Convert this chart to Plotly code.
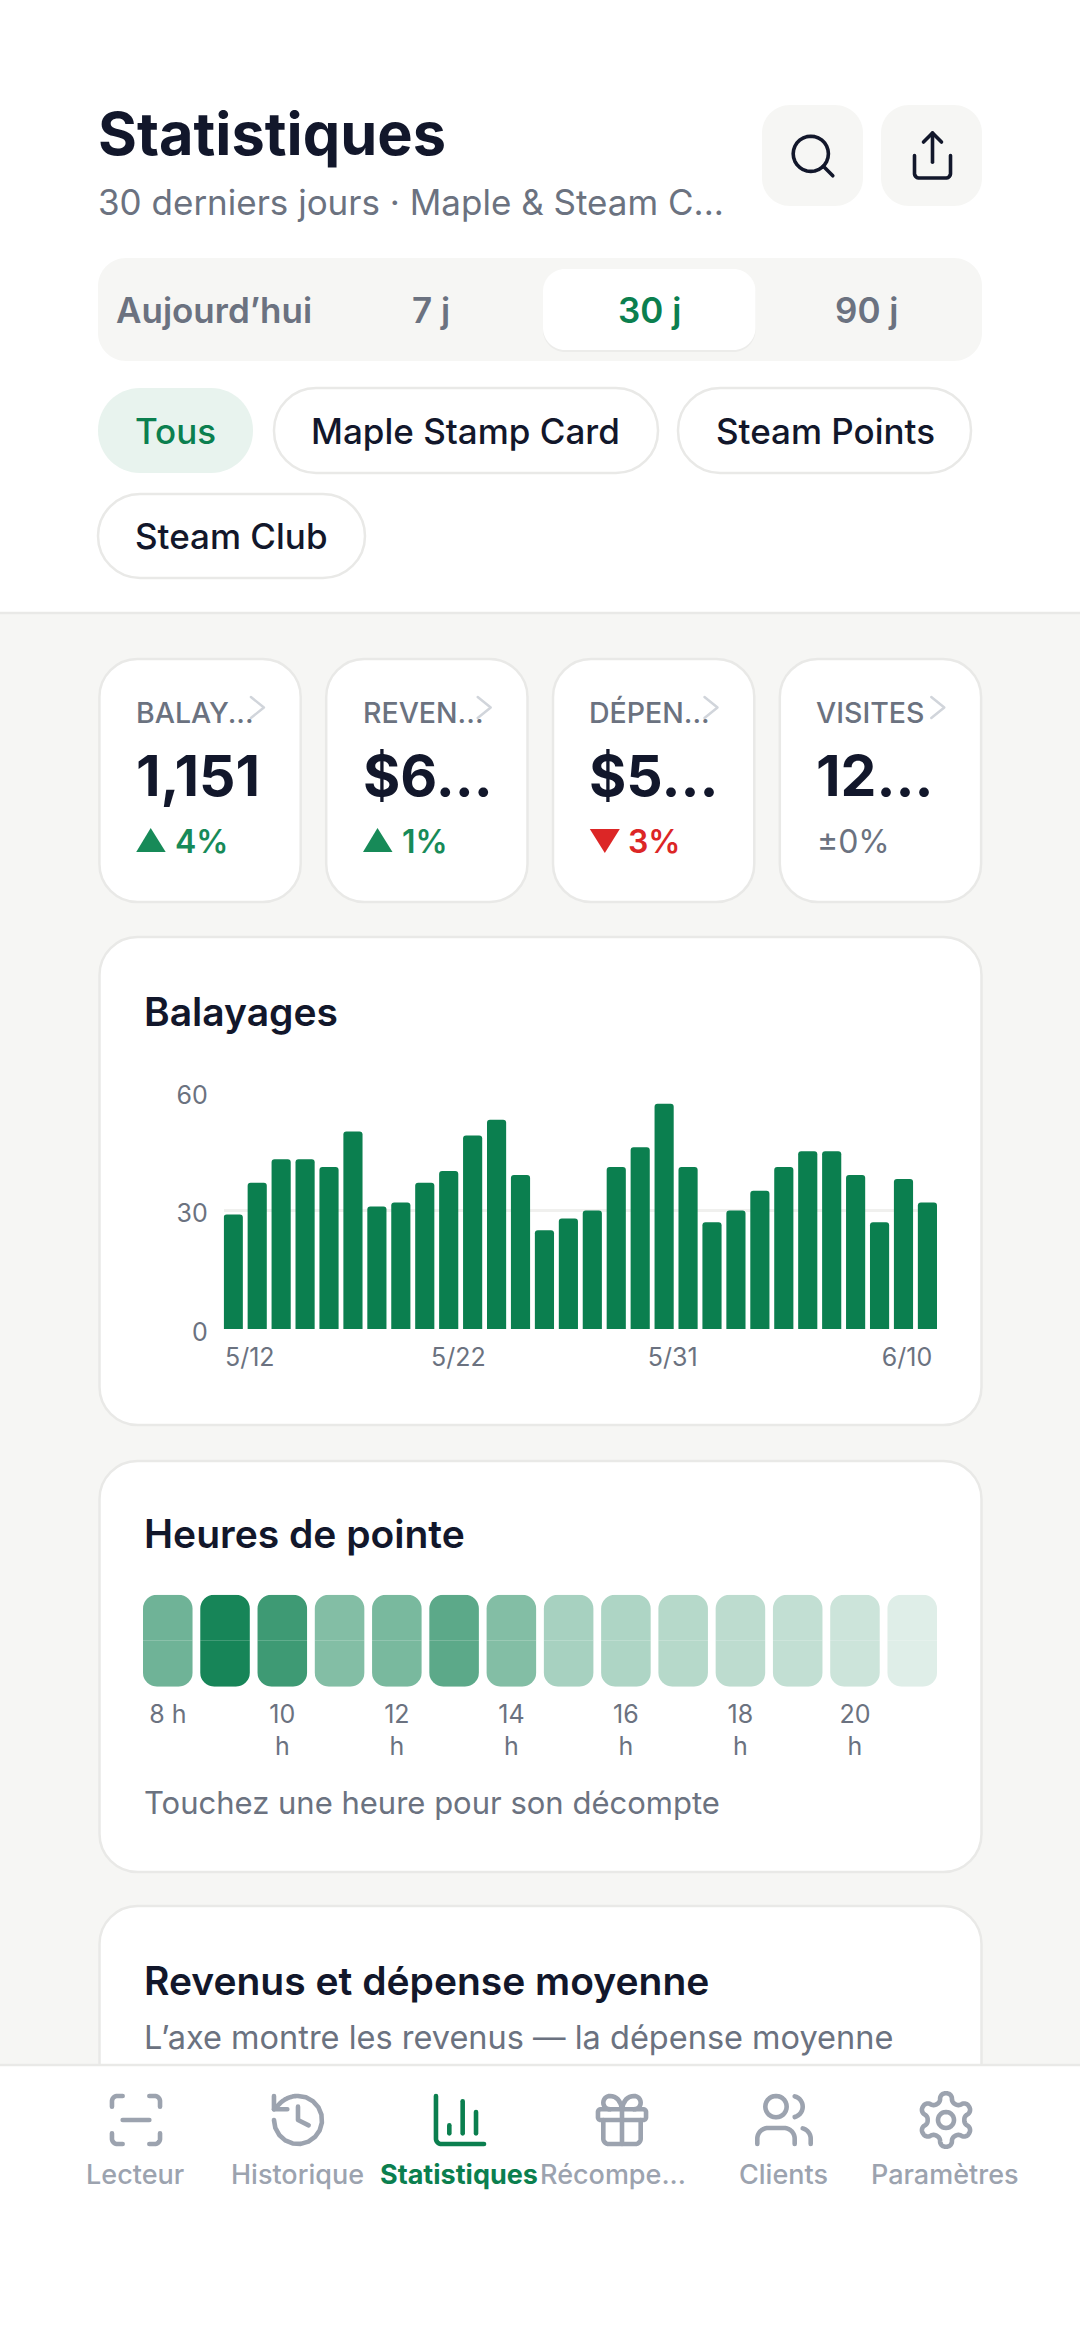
import math, re
import plotly.graph_objects as go

# ---------- data ----------
days = ["5/12","5/13","5/14","5/15","5/16","5/17","5/18","5/19","5/20","5/21","5/22","5/23","5/24","5/25","5/26",
        "5/27","5/28","5/29","5/30","5/31","6/1","6/2","6/3","6/4","6/5","6/6","6/7","6/8","6/9","6/10"]
swipes = [29,37,43,43,41,50,31,32,37,40,49,53,39,25,28,30,41,46,57,41,27,30,35,41,45,45,39,27,38,32]
swipe_y_ticks = [0,30,60]
swipe_x_labels = ["5/12","5/22","5/31","6/10"]
hours = [8,9,10,11,12,13,14,15,16,17,18,19,20,21]
hour_intensity = [0.59,0.95,0.79,0.51,0.55,0.67,0.51,0.36,0.33,0.30,0.27,0.25,0.21,0.13]
hour_ticks = [8,10,12,14,16,18,20]
hour_labels = ["8 h","10<br>h","12<br>h","14<br>h","16<br>h","18<br>h","20<br>h"]
kpi_labels = ["BALAY...","REVEN...","DÉPEN...","VISITES"]
kpi_values = ["1,151","$6...","$5...","12..."]
kpi_deltas = ["4%","1%","3%","±0%"]
kpi_dirs = [1,1,-1,0]
seg_labels = ["Aujourd’hui","7 j","30 j","90 j"]
nav_labels = ["Lecteur","Historique","Statistiques","Récompe...","Clients","Paramètres"]

# ---------- style ----------
W,H = 1080,2340
INK="#12172B"; GRAY="#6B7280"; GREEN="#0B7F4F"; RED="#DC2626"; BG="#F6F6F4"; BORDER="#E9E9E7"; NAVG="#9CA3AF"; MINT="#E8F3EE"
FONT="Inter"
def X(x): return x/W
def Y(y): return 1-y/H

shapes=[]; notes=[]
def add_path(d, fill=None, line=None, lw=0):
    shapes.append(dict(type="path",path=d,xref="paper",yref="paper",layer="below",
        fillcolor=fill if fill else "rgba(0,0,0,0)",
        line=dict(color=line if line else "rgba(0,0,0,0)",width=lw)))
def P(x,y): return f"{X(x):.6f},{Y(y):.6f}"
def rrect(x0,y0,x1,y1,r,fill=None,line=None,lw=0,square_bottom=False):
    k=r*0.4477
    d=f"M{P(x0+r,y0)}L{P(x1-r,y0)}C{P(x1-k,y0)} {P(x1,y0+k)} {P(x1,y0+r)}"
    if square_bottom:
        d+=f"L{P(x1,y1)}L{P(x0,y1)}"
    else:
        d+=(f"L{P(x1,y1-r)}C{P(x1,y1-k)} {P(x1-k,y1)} {P(x1-r,y1)}L{P(x0+r,y1)}"
            f"C{P(x0+k,y1)} {P(x0,y1-k)} {P(x0,y1-r)}")
    d+=f"L{P(x0,y0+r)}C{P(x0,y0+k)} {P(x0+k,y0)} {P(x0+r,y0)}Z"
    add_path(d,fill,line,lw)
def text(x,y,s,size,color=INK,weight=400,anchor="left"):
    notes.append(dict(x=X(x),y=Y(y),xref="paper",yref="paper",text=s,showarrow=False,xanchor=anchor,yanchor="middle",
        font=dict(family=FONT,size=size,color=color,weight=weight),borderpad=0,borderwidth=0))

def arc_pts(x1,y1,rx,ry,large,sweep,x2,y2,n=14):
    if x1==x2 and y1==y2: return []
    dx,dy=(x1-x2)/2,(y1-y2)/2
    lam=dx*dx/(rx*rx)+dy*dy/(ry*ry)
    if lam>1: rx*=math.sqrt(lam); ry*=math.sqrt(lam)
    num=rx*rx*ry*ry-rx*rx*dy*dy-ry*ry*dx*dx
    den=rx*rx*dy*dy+ry*ry*dx*dx
    c=math.sqrt(max(0,num/den))*(1 if large!=sweep else -1)
    cxp,cyp=c*rx*dy/ry,-c*ry*dx/rx
    cx,cy=cxp+(x1+x2)/2,cyp+(y1+y2)/2
    a1=math.atan2((dy-cyp)/ry,(dx-cxp)/rx)
    a2=math.atan2((-dy-cyp)/ry,(-dx-cxp)/rx)
    da=a2-a1
    if sweep and da<0: da+=2*math.pi
    if not sweep and da>0: da-=2*math.pi
    return [(cx+rx*math.cos(a1+da*i/n),cy+ry*math.sin(a1+da*i/n)) for i in range(1,n+1)]
def tokens(d):
    return re.findall(r"[MmLlHhVvAaCcZz]|-?\d*\.?\d+",d)
def icon_path(d,cx,cy,s):
    t=tokens(d); i=0; x=y=0; cmd=None; out=""; sx=sy=0
    T=lambda a,b:P(cx+(a-12)*s,cy+(b-12)*s)
    def num():
        nonlocal i
        v=float(t[i]); i+=1; return v
    while i<len(t):
        if re.match(r"[A-Za-z]",t[i]): cmd=t[i]; i+=1
        rel=cmd.islower(); c=cmd.upper()
        if c=="Z":
            out+="Z"; x,y=sx,sy; continue
        if c in "ML":
            a,b=num(),num()
            if rel: a+=x;b+=y
            out+=("M" if c=="M" else "L")+T(a,b); x,y=a,b
            if c=="M": sx,sy=x,y; cmd="l" if rel else "L"
        elif c=="H":
            a=num(); a=a+x if rel else a; out+="L"+T(a,y); x=a
        elif c=="V":
            b=num(); b=b+y if rel else b; out+="L"+T(x,b); y=b
        elif c=="C":
            v=[num() for _ in range(6)]
            if rel: v=[v[j]+(x if j%2==0 else y) for j in range(6)]
            out+="C"+T(v[0],v[1])+" "+T(v[2],v[3])+" "+T(v[4],v[5]); x,y=v[4],v[5]
        elif c=="A":
            rx,ry,_=num(),num(),num(); la,sw=int(num()),int(num()); a,b=num(),num()
            if rel: a+=x;b+=y
            for p,q in arc_pts(x,y,rx,ry,la,sw,a,b): out+="L"+T(p,q)
            x,y=a,b
    return out
def circle_d(c,r): return f"M{c[0]-r} {c[1]}A{r} {r} 0 1 1 {c[0]+r} {c[1]}A{r} {r} 0 1 1 {c[0]-r} {c[1]}Z"
def icon(ds,cx,cy,s,color,lw):
    for d in ds: add_path(icon_path(d,cx,cy,s),None,color,lw)

ICONS={
 "search":[circle_d((11,11),8),"M21 21L16.7 16.7"],
 "share":["M4 12V20A2 2 0 0 0 6 22H18A2 2 0 0 0 20 20V12","M16 6L12 2L8 6","M12 2V15"],
 "scan":["M3 7V5A2 2 0 0 1 5 3H7","M17 3H19A2 2 0 0 1 21 5V7","M21 17V19A2 2 0 0 1 19 21H17","M7 21H5A2 2 0 0 1 3 19V17","M7 12H17"],
 "history":["M3 12A9 9 0 1 0 12 3A9.75 9.75 0 0 0 5.26 5.74L3 8","M3 3V8H8","M12 7V12L16 14"],
 "chart":["M3 3V19A2 2 0 0 0 5 21H21","M8 17V14","M13 17V5","M18 17V9"],
 "gift":["M4 8H20A1 1 0 0 1 21 9V11A1 1 0 0 1 20 12H4A1 1 0 0 1 3 11V9A1 1 0 0 1 4 8Z","M12 8V21","M19 12V19A2 2 0 0 1 17 21H7A2 2 0 0 1 5 19V12",
         "M7.5 8A2.5 2.5 0 0 1 7.5 3C10 3 11.5 5 12 8C12.5 5 14 3 16.5 3A2.5 2.5 0 0 1 16.5 8"],
 "users":["M16 21V19A4 4 0 0 0 12 15H6A4 4 0 0 0 2 19V21",circle_d((9,7),4),"M22 21V19A4 4 0 0 0 19 15.13","M16 3.13A4 4 0 0 1 16 10.88"],
 "gear":["M12.22 2h-.44a2 2 0 0 0-2 2v.18a2 2 0 0 1-1 1.73l-.43.25a2 2 0 0 1-2 0l-.15-.08a2 2 0 0 0-2.73.73l-.22.38a2 2 0 0 0 .73 2.73l.15.1a2 2 0 0 1 1 1.72v.51a2 2 0 0 1-1 1.74l-.15.09a2 2 0 0 0-.73 2.73l.22.38a2 2 0 0 0 2.73.73l.15-.08a2 2 0 0 1 2 0l.43.25a2 2 0 0 1 1 1.73V20a2 2 0 0 0 2 2h.44a2 2 0 0 0 2-2v-.18a2 2 0 0 1 1-1.73l.43-.25a2 2 0 0 1 2 0l.15.08a2 2 0 0 0 2.73-.73l.22-.39a2 2 0 0 0-.73-2.73l-.15-.08a2 2 0 0 1-1-1.74v-.5a2 2 0 0 1 1-1.74l.15-.09a2 2 0 0 0 .73-2.73l-.22-.38a2 2 0 0 0-2.73-.73l-.15.08a2 2 0 0 1-2 0l-.43-.25a2 2 0 0 1-1-1.73V4a2 2 0 0 0-2-2z",circle_d((12,12),3)],
}

# ---------- page chrome ----------
shapes.append(dict(type="rect",xref="paper",yref="paper",layer="below",x0=0,x1=1,y0=Y(2065),y1=Y(613),fillcolor=BG,line=dict(width=0)))
shapes.append(dict(type="line",xref="paper",yref="paper",layer="below",x0=0,x1=1,y0=Y(613),y1=Y(613),line=dict(color=BORDER,width=2.5)))

# header
text(98,133,"Statistiques",59.5,INK,700)
text(98,202,"30 derniers jours · Maple &amp; Steam C...",35,GRAY,400)
rrect(762,105,863,206,28,BG); rrect(881,105,982,206,28,BG)
icon(ICONS["search"],813,156,2.2,INK,3.6)
icon(ICONS["share"],932.5,155.5,2.25,INK,3.6)

# period segment
rrect(98,258,982,361,28,BG)
rrect(543,271,755.5,352,22,"#ECECEA")
rrect(543,269,755.5,350,22,"#FFFFFF")
for lab,cx,col in zip(seg_labels,[214,431,649,866],[GRAY,GRAY,GREEN,GRAY]):
    text(cx,310,lab,35,col,600,"center")

# chips
rrect(98,388,253,473,42,MINT)
rrect(274,388,658,473,42,"#FFFFFF",BORDER,2.5)
rrect(678,388,971,473,42,"#FFFFFF",BORDER,2.5)
rrect(98,494,365,578,42,"#FFFFFF",BORDER,2.5)
text(175.5,431,"Tous",35,GREEN,500,"center")
text(465.5,431,"Maple Stamp Card",35,INK,500,"center")
text(825,431,"Steam Points",35,INK,500,"center")
text(231,536,"Steam Club",35,INK,500,"center")

# KPI cards
kpi_x=[99.4,326.2,553,779.8]
for x0,lab,val,dl,dr in zip(kpi_x,kpi_labels,kpi_values,kpi_deltas,kpi_dirs):
    rrect(x0,659,x0+201.3,902,38,"#FFFFFF",BORDER,2.5)
    tx=x0+36.3
    text(tx,712.5,lab,28.5,GRAY,500)
    text(tx,775.5,val,57,INK,700)
    add_path(f"M{P(x0+151.5,697)}L{P(x0+164.5,707.5)}L{P(x0+151.5,718)}",None,"#D1D5DB",2.5)
    if dr>0:
        add_path(f"M{P(tx+0.5,852)}L{P(tx+15,828)}L{P(tx+30,852)}Z","#178A58")
        text(tx+39,841,dl,32,"#178A58",600)
    elif dr<0:
        add_path(f"M{P(tx+0.5,829)}L{P(tx+30.5,829)}L{P(tx+15.5,853)}Z",RED)
        text(tx+39,841,dl,32,RED,600)
    else:
        text(tx+1,841,dl,32,GRAY,400)

# section cards
rrect(99.5,937,981.5,1425,38,"#FFFFFF",BORDER,2.5)
text(144,1011,"Balayages",39,INK,600)
rrect(99.5,1461,981.5,1872,38,"#FFFFFF",BORDER,2.5)
text(144,1533,"Heures de pointe",39,INK,600)
text(144,1802,"Touchez une heure pour son décompte",31,GRAY,400)
rrect(99.5,1906,981.5,2120,38,"#FFFFFF",BORDER,2.5,square_bottom=True)
text(144,1980,"Revenus et dépense moyenne",39,INK,600)
text(144,2037,"L’axe montre les revenus — la dépense moyenne",32.5,GRAY,400)

# bottom nav
shapes.append(dict(type="rect",xref="paper",yref="paper",layer="below",x0=0,x1=1,y0=0,y1=Y(2065),fillcolor="#FFFFFF",line=dict(width=0)))
shapes.append(dict(type="line",xref="paper",yref="paper",layer="below",x0=0,x1=1,y0=Y(2065),y1=Y(2065),line=dict(color=BORDER,width=2.5)))
for name,cx,lab,lx in zip(["scan","history","chart","gift","users","gear"],[136,298,460,622,784,946],nav_labels,[135,297,459,613,783,945]):
    active=name=="chart"
    icon(ICONS[name],cx,2120,2.67,GREEN if active else NAVG,4.6)
    text(lx,2174,lab,27,GREEN if active else NAVG,700 if active else 500,"center")

# ---------- figure ----------
fig=go.Figure()
idx=list(range(len(swipes)))
fig.add_trace(go.Bar(x=idx,y=swipes,marker=dict(color=GREEN,line=dict(width=0),cornerradius=3),
    customdata=days,hovertemplate="%{customdata}: %{y}<extra></extra>",xaxis="x",yaxis="y",width=0.8))
up=[1 for _ in hours]; down=[-1 for _ in hours]
for ys in (up,down):
    fig.add_trace(go.Bar(x=hours,y=ys,xaxis="x2",yaxis="y2",width=0.865,customdata=hour_intensity,
        hovertemplate="%{x} h<extra></extra>",
        marker=dict(color=hour_intensity,cmin=0,cmax=1,colorscale=[[0,"#FFFFFF"],[1,GREEN]],line=dict(width=0),cornerradius=14)))

axis_font=dict(family=FONT,size=25,color=GRAY)
fig.update_layout(
    width=W,height=H,margin=dict(l=0,r=0,t=0,b=0,pad=0,autoexpand=False),autosize=False,showlegend=False,barmode="overlay",
    paper_bgcolor="#FFFFFF",plot_bgcolor="rgba(0,0,0,0)",font=dict(family=FONT),
    shapes=shapes,annotations=notes,
    xaxis=dict(domain=[X(223.7),X(937)],anchor="y",range=[-0.4,29.4],showgrid=False,zeroline=False,showline=False,automargin=False,
        tickmode="array",tickvals=[0.69,9.4,18.36,28.15],ticktext=swipe_x_labels,tickfont=axis_font,ticklen=0,ticks="",ticklabelstandoff=11),
    yaxis=dict(domain=[Y(1329),Y(1092)],anchor="x",range=[0,60],tickmode="array",tickvals=swipe_y_ticks,tickfont=axis_font,automargin=False,
        showgrid=True,gridcolor="#F0F0EE",gridwidth=2.5,zeroline=False,showline=False,ticks="",ticklen=0,ticklabelstandoff=15,ticklabelshift=3),
    xaxis2=dict(domain=[X(143),X(937)],anchor="y2",range=[7.5675,21.4325],showgrid=False,zeroline=False,showline=False,automargin=False,
        tickmode="array",tickvals=hour_ticks,ticktext=hour_labels,tickfont=axis_font,ticks="",ticklen=0,ticklabelstandoff=10),
    yaxis2=dict(domain=[Y(1686.7),Y(1594.7)],anchor="x2",range=[-1,1],visible=False),
)
caps="document.body.style.margin='0';document.body.style.overflow='hidden';document.querySelectorAll('.shapelayer path').forEach(function(p){p.style.strokeLinecap='round';p.style.strokeLinejoin='round';});"
fig.write_html("out.html",config=dict(displayModeBar=False),post_script=caps)
